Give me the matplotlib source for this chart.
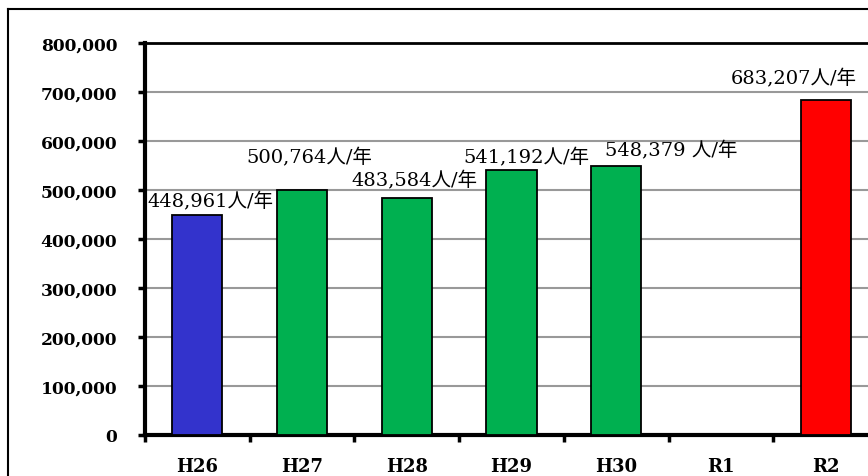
import numpy as np
import matplotlib
matplotlib.use("Agg")
import matplotlib.pyplot as plt
from matplotlib.lines import Line2D

categories = ["H26", "H27", "H28", "H29", "H30", "R1", "R2"]
values = [448961, 500764, 483584, 541192, 548379, np.nan, 683207]
labels = ["448,961人/年", "500,764人/年", "483,584人/年", "541,192人/年",
          "548,379 人/年", None, "683,207人/年"]
colors = ["#3333CC", "#00B050", "#00B050", "#00B050", "#00B050", "#00B050", "#FF0000"]
yticks = [0, 100000, 200000, 300000, 400000, 500000, 600000, 700000, 800000]

# label anchor positions (x offset from category, y in data units)
label_pos = [(0.13, 478000), (1.07, 567000), (2.07, 520000), (3.14, 567000),
             (4.53, 581000), None, (5.70, 728000)]

fig = plt.figure(figsize=(8.68, 4.77), dpi=100)
ax = fig.add_axes([145/868, 41/477, 733/868, 392/477])

x = np.arange(len(categories))
ax.bar(x, values, width=0.48, color=colors, edgecolor="black", linewidth=1.3, zorder=3)

ax.set_xlim(-0.5, len(categories) - 0.5)
ax.set_ylim(0, 800000)
ax.set_yticks(yticks)
ax.set_yticklabels([f"{v:,}" for v in yticks], fontfamily="DejaVu Serif",
                   fontweight="bold", fontsize=12.3)
ax.set_xticks(x)
ax.set_xticklabels(categories, fontfamily="DejaVu Serif", fontweight="bold", fontsize=13)
ax.set_xticks(np.arange(-0.5, len(categories)), minor=True)
ax.tick_params(axis="x", which="major", length=0, pad=16)
ax.tick_params(axis="x", which="minor", length=5, width=2.5, direction="out")
ax.tick_params(axis="y", which="major", length=5, width=2.5, direction="out", pad=15)

for v in yticks[1:-1]:
    ax.axhline(v, color="#999999", linewidth=1.5, zorder=1)

ax.spines["right"].set_visible(False)
ax.spines["top"].set_linewidth(2)
ax.spines["left"].set_linewidth(3)
ax.spines["bottom"].set_linewidth(3)

for lbl, pos in zip(labels, label_pos):
    if lbl is None:
        continue
    ax.text(pos[0], pos[1], lbl, ha="center", va="center", fontsize=14,
            family=["DejaVu Serif", "Noto Sans CJK JP"], zorder=4)

# outer frame
fig.add_artist(Line2D([8/868, 8/868], [0, 1 - 10/477], color="black", linewidth=1.5,
                      transform=fig.transFigure))
fig.add_artist(Line2D([8/868, 1], [1 - 10/477, 1 - 10/477], color="black", linewidth=1.5,
                      transform=fig.transFigure))

fig.savefig("out.png", dpi=100)
